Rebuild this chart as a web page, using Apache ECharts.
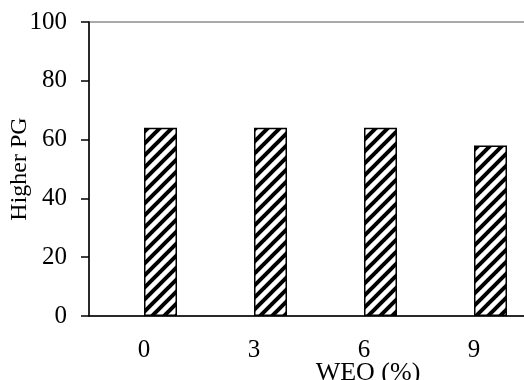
<!DOCTYPE html>
<html>
<head>
<meta charset="utf-8">
<script src="https://cdn.jsdelivr.net/npm/echarts@6/dist/echarts.min.js"></script>
<style>
  html, body { margin: 0; padding: 0; background: #fff; }
  #chart { width: 524px; height: 380px; }
</style>
</head>
<body>
<div id="chart"></div>
<script>
const categories = ['0', '3', '6', '9']
const higherPG = [64, 64, 64, 58]
const emptySlot = [null, null, null, null]

const font = 'Liberation Serif, Times New Roman, serif'

// 斜线填充
const makeHatch = () => {
  const s = 12
  const c = document.createElement('canvas')
  c.width = s
  c.height = s
  const ctx = c.getContext('2d')
  ctx.fillStyle = '#fff'
  ctx.fillRect(0, 0, s, s)
  ctx.strokeStyle = '#000'
  ctx.lineWidth = 4
  ctx.beginPath()
  ctx.moveTo(-2, s + 2); ctx.lineTo(s + 2, -2)
  ctx.moveTo(-2, 2); ctx.lineTo(2, -2)
  ctx.moveTo(s - 2, s + 2); ctx.lineTo(s + 2, s - 2)
  ctx.stroke()
  return c
}

const myChart = echarts.init(document.getElementById('chart'))
const chartOption = {
  animation: false,
  grid: {
    left: 89,
    right: -5,
    top: 22,
    bottom: 64,
    containLabel: false,
    outerBoundsMode: 'none',
    show: true,
    borderColor: '#555',
    borderWidth: 1
  },
  xAxis: {
    type: 'category',
    data: categories,
    name: 'WEO (%)',
    nameLocation: 'middle',
    nameGap: 44,
    nameMoveOverlap: false,
    nameTextStyle: { fontFamily: font, fontSize: 26, color: '#000', padding: [0, 0, 0, 118] },
    axisLine: { lineStyle: { color: '#000', width: 1.5 } },
    axisTick: { length: 8, lineStyle: { color: '#000', width: 1.5 } },
    axisLabel: { fontFamily: font, fontSize: 25, color: '#000', margin: 22 }
  },
  yAxis: {
    type: 'value',
    min: 0,
    max: 100,
    interval: 20,
    name: 'Higher PG',
    nameLocation: 'middle',
    nameGap: 57,
    nameMoveOverlap: false,
    nameTextStyle: { fontFamily: font, fontSize: 24, color: '#000' },
    axisLine: { show: true, lineStyle: { color: '#000', width: 1.5 } },
    axisTick: { show: true, length: 8, lineStyle: { color: '#000', width: 1.5 } },
    axisLabel: { fontFamily: font, fontSize: 25, color: '#000', margin: 22 },
    splitLine: { show: false }
  },
  series: [
    {
      type: 'bar',
      data: emptySlot,
      barWidth: 33,
      barGap: '0%'
    },
    {
      type: 'bar',
      data: higherPG,
      barWidth: 33,
      barGap: '0%',
      itemStyle: {
        color: { image: makeHatch(), repeat: 'repeat' },
        borderColor: '#000',
        borderWidth: 1.5
      }
    }
  ]
}
myChart.setOption(chartOption)
</script>
</body>
</html>
